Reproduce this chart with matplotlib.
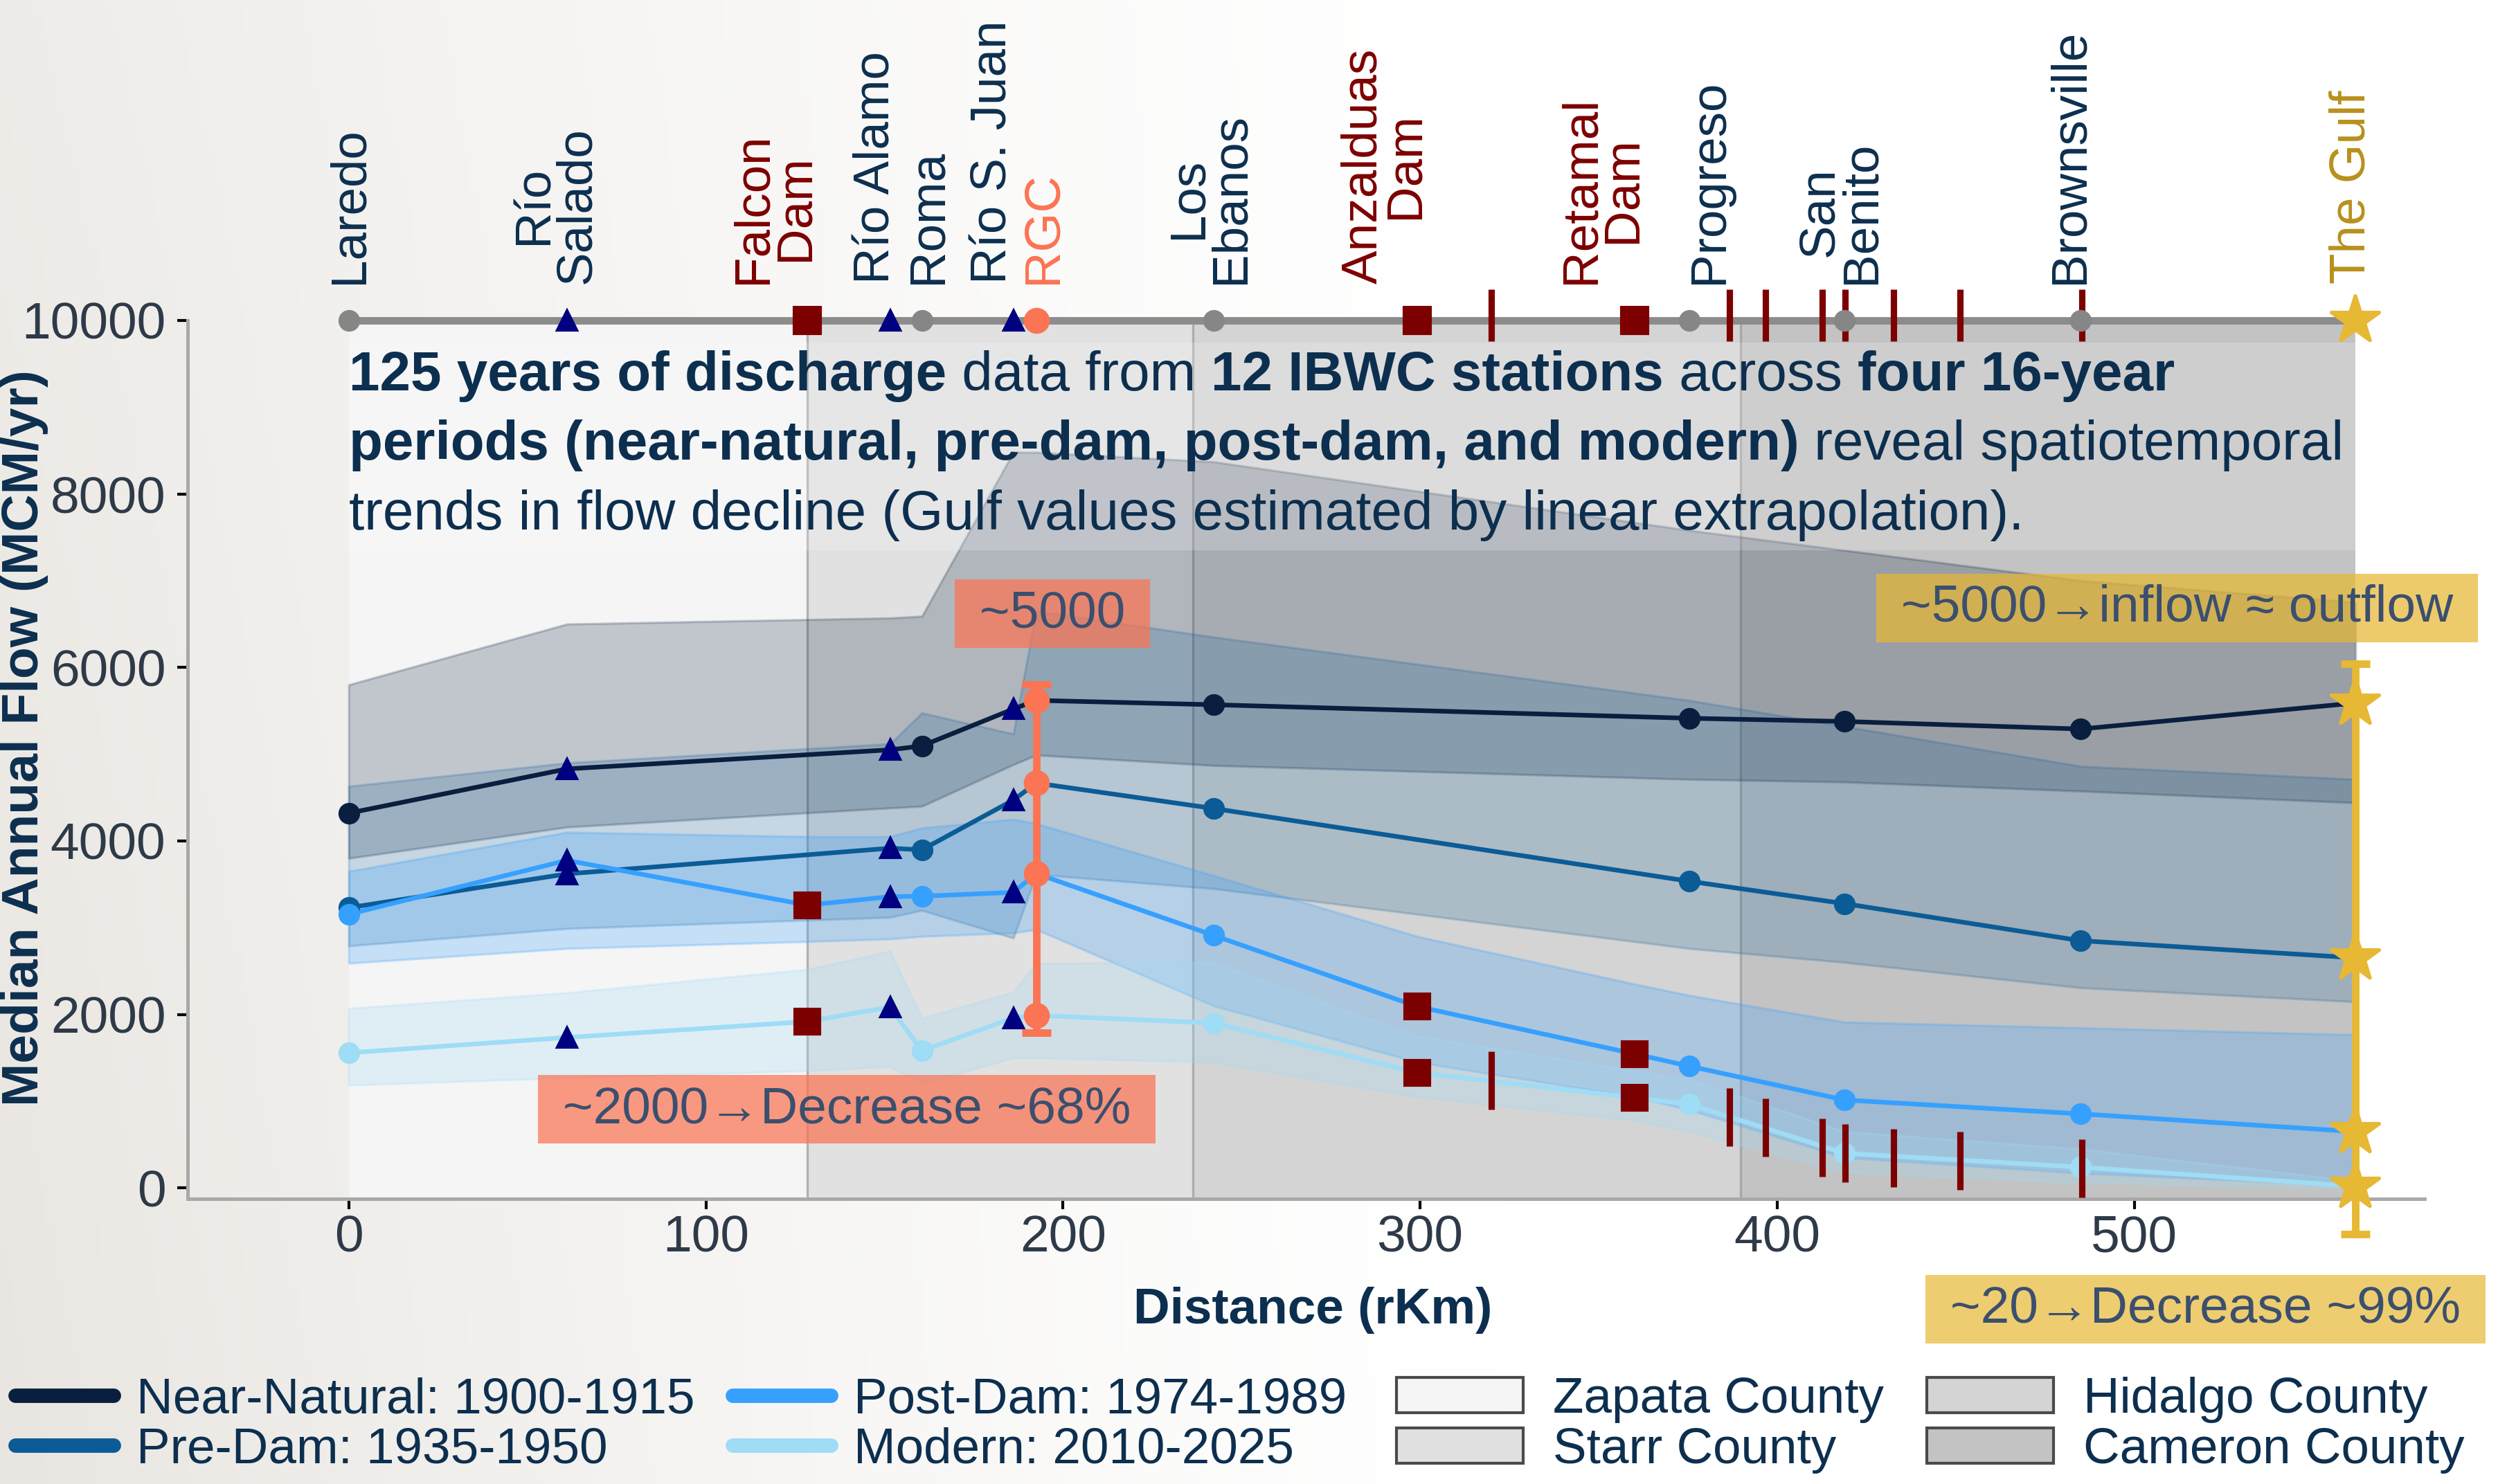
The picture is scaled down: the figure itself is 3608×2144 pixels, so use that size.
import numpy as np
import matplotlib
matplotlib.use("Agg")
import matplotlib.pyplot as plt
from matplotlib.lines import Line2D
from matplotlib.patches import Patch, Rectangle

plt.rcParams['font.family'] = ['Liberation Sans', 'DejaVu Sans']

# --- stations along the river (river km) ---
station_names = ["Laredo", "Río\nSalado", "Falcon\nDam", "Río Alamo", "Roma", "Río S. Juan", "RGC",
                 "Los\nEbanos", "Anzalduas\nDam", "Retamal\nDam", "Progreso", "San\nBenito",
                 "Brownsville", "The Gulf"]
station_km = [0.0, 61.1, 128.4, 151.6, 160.5, 186.1, 192.5, 242.2, 299.2, 360.1, 375.4, 418.9, 485.0, 562.0]
station_kind = ["gauge", "trib", "dam", "trib", "gauge", "trib", "rgc", "gauge", "dam", "dam",
                "gauge", "gauge", "gauge", "gulf"]
label_km = [0.2, 58.0, 119.2, 147.7, 162.4, 180.6, 194.6, 241.1, 290.1, 351.0, 381.2, 417.8, 482.0, 561.0]

diversion_km = [320.0, 386.6, 396.7, 412.7, 419.1, 432.6, 451.2, 485.3]
diversion_flow = [1236, 816, 696, 463, 399, 345, 311, 223]

# --- counties ---
county_names = ["Zapata County", "Starr County", "Hidalgo County", "Cameron County"]
county_edges = [0.0, 128.4, 236.4, 389.8, 562.0]

# --- median annual flow (MCM/yr) with band ---
km_natural = [0.0, 61.1, 151.6, 160.5, 186.1, 192.5, 242.2, 375.4, 418.9, 485.0, 562.0]
km_dammed = [0.0, 61.1, 128.4, 151.6, 160.5, 186.1, 192.5, 242.2, 299.2, 360.1, 375.4, 418.9, 485.0, 562.0]

nn_med = [4320, 4830, 5050, 5095, 5520, 5620, 5570, 5414, 5377, 5290, 5590]
nn_lo = [3800, 4160, 4380, 4400, 4880, 4990, 4870, 4710, 4680, 4575, 4440]
nn_hi = [5800, 6500, 6570, 6590, 8480, 8480, 8370, 7580, 7350, 7000, 6750]

pre_med = [3230, 3620, 3916, 3897, 4470, 4667, 4374, 3535, 3277, 2850, 2652]
pre_lo = [2790, 2990, 3120, 3200, 2880, 3615, 3450, 2760, 2600, 2307, 2146]
pre_hi = [4630, 4900, 5120, 5476, 5234, 6650, 6350, 5620, 5320, 4861, 4710]

post_med = [3155, 3776, 3260, 3357, 3363, 3407, 3624, 2911, 2092, 1545, 1404, 1014, 854, 649]
post_lo = [2590, 2760, 2840, 2870, 2900, 2940, 2980, 2100, 1450, 1050, 900, 350, 170, 30]
post_hi = [3650, 4100, 4050, 4050, 4150, 4250, 4200, 3600, 2900, 2350, 2220, 1912, 1846, 1766]

mod_med = [1557, 1734, 1918, 2085, 1582, 1959, 1990, 1901, 1329, 1041, 965, 400, 240, 20]
mod_lo = [1185, 1270, 1350, 1400, 1200, 1500, 1500, 1450, 1050, 780, 650, 180, 60, 0]
mod_hi = [2070, 2250, 2520, 2730, 1955, 2260, 2590, 2600, 1750, 1350, 1250, 650, 450, 80]

series_labels = ["Near-Natural: 1900-1915", "Pre-Dam: 1935-1950", "Post-Dam: 1974-1989", "Modern: 2010-2025"]

rgc_range = [1790, 5800]
gulf_range = [-530, 6045]

# --- styles ---
NAVY_TXT = '#0d2f4f'
SERIES_COLORS = ['#0a1f3f', '#0b5c96', '#36a0ff', '#9fdcf5']
BAND_ALPHA = [0.22, 0.2, 0.25, 0.25]
COUNTY_COLORS = ['#f5f5f5', '#e1e1e1', '#d4d4d4', '#c3c3c3']
CORAL = '#fb7453'
GOLD = '#e6b833'
MAROON = '#7d0000'
TRIB = '#000080'
GAUGE_GRAY = '#868686'

fig = plt.figure(figsize=(3608 / 300, 2144 / 300), dpi=300)

# soft background gradient
bg = fig.add_axes([0, 0, 1, 1], zorder=-10)
gx, gy = np.meshgrid(np.linspace(0, 1, 400), np.linspace(0, 1, 200))
w = np.clip(1 - gx / 0.6, 0, 1) ** 1.3 * (0.75 + 0.25 * (1 - gy))
base = np.array([233, 230, 225]) / 255
bg.imshow(1 - w[..., None] * (1 - base), extent=[0, 1, 0, 1], origin='lower', aspect='auto')
bg.axis('off')

ax = fig.add_axes([0.0750, 0.1922, 0.8956, 0.5919])
ax.set_facecolor('none')
ax.set_xlim(-45.2, 581.3)
ax.set_ylim(-125, 10000)

# counties
for lo, hi, c in zip(county_edges[:-1], county_edges[1:], COUNTY_COLORS):
    ax.axvspan(lo, hi, color=c, lw=0, zorder=0)
for xb in county_edges[1:-1]:
    ax.axvline(xb, color='#9a9a9a', lw=0.8, alpha=0.7, zorder=0.5)

kind_of = dict(zip(station_km, station_kind))

series = [
    (km_natural, nn_med, nn_lo, nn_hi),
    (km_natural, pre_med, pre_lo, pre_hi),
    (km_dammed, post_med, post_lo, post_hi),
    (km_dammed, mod_med, mod_lo, mod_hi),
]

for (xs, med, lo, hi), c, a in zip(series, SERIES_COLORS, BAND_ALPHA):
    ax.fill_between(xs, lo, hi, color=c, alpha=a, lw=0.8, zorder=1)

# translucent panel behind the summary text
ax.add_patch(Rectangle((0, 7350), 562, 2390, facecolor='white', alpha=0.2, lw=0, zorder=2.5))

for (xs, med, lo, hi), c in zip(series, SERIES_COLORS):
    ax.plot(xs, med, color=c, lw=1.6, zorder=4)
    for x, y in zip(xs, med):
        k = kind_of[x]
        if k == 'gauge':
            ax.plot(x, y, 'o', color=c, ms=6.5, zorder=5)
        elif k == 'trib':
            ax.plot(x, y, '^', color=TRIB, ms=6.5, zorder=5)
        elif k == 'dam':
            ax.plot(x, y, 's', color=MAROON, ms=8.5, zorder=5)
        elif k == 'gulf':
            ax.plot(x, y, '*', color=GOLD, ms=18, zorder=7, clip_on=False)

# RGC and Gulf ranges
rgc_x = station_km[station_kind.index('rgc')]
gulf_x = station_km[station_kind.index('gulf')]
for xr, rng, col in [(rgc_x, rgc_range, CORAL), (gulf_x, gulf_range, GOLD)]:
    eb = ax.errorbar([xr], [(rng[0] + rng[1]) / 2], yerr=[(rng[1] - rng[0]) / 2], color=col,
                     lw=2.6, capsize=5, capthick=2.6, zorder=6)
    for art in eb.get_children():
        art.set_clip_on(False)
rgc_vals = [s[1][s[0].index(rgc_x)] for s in series]
ax.plot([rgc_x] * len(rgc_vals), rgc_vals, 'o', color=CORAL, ms=8, zorder=6.5)

# diversion ticks along the modern line
ax.plot(diversion_km, diversion_flow, '|', color=MAROON, ms=20, mew=2.2, zorder=5)

# river schematic at the top
row_y = 10000
ax.plot([0, gulf_x], [row_y, row_y], color='#8c8c8c', lw=2.6, zorder=3, clip_on=False,
        solid_capstyle='butt')
ax.plot(diversion_km, [row_y + 60] * len(diversion_km), '|', color=MAROON, ms=18, mew=2.2,
        zorder=4, clip_on=False)
marker_style = {
    'gauge': dict(marker='o', color=GAUGE_GRAY, ms=6.5),
    'trib': dict(marker='^', color=TRIB, ms=6.5),
    'dam': dict(marker='s', color=MAROON, ms=9),
    'rgc': dict(marker='o', color=CORAL, ms=8),
    'gulf': dict(marker='*', color=GOLD, ms=18),
}
label_color = {'gauge': NAVY_TXT, 'trib': NAVY_TXT, 'dam': MAROON, 'rgc': CORAL, 'gulf': '#b8901c'}
for name, x, k, lx in zip(station_names, station_km, station_kind, label_km):
    ax.plot([x], [row_y], linestyle='none', zorder=5, clip_on=False, **marker_style[k])
    ax.text(lx, row_y + 425, name, rotation=90, ha='center', va='bottom', fontsize=17.5,
            color=label_color[k], linespacing=0.88, clip_on=False)

# summary text with mixed weights
def rich_line(x, y, pieces):
    prev = None
    for txt, bold in pieces:
        kw = dict(fontsize=19.2, color=NAVY_TXT, fontweight='bold' if bold else 'normal',
                  va='bottom', ha='left', zorder=8)
        if prev is None:
            prev = ax.text(x, y, txt, **kw)
        else:
            prev = ax.annotate(txt, xy=(1, 0), xycoords=prev, **kw)

rich_line(0, 9060, [("125 years of discharge", True), (" data from ", False),
                    ("12 IBWC stations", True), (" across ", False), ("four 16-year", True)])
rich_line(0, 8256, [("periods (near-natural, pre-dam, post-dam, and modern)", True),
                    (" reveal spatiotemporal", False)])
rich_line(0, 7452, [("trends in flow decline (Gulf values estimated by linear extrapolation).", False)])

# callout boxes
box_txt = '#3b4f6e'
ax.text(197, 6620, " ~5000 ", ha='center', va='center', fontsize=18, color=box_txt, zorder=9,
        bbox=dict(boxstyle='square,pad=0.2', fc=CORAL, ec='none', alpha=0.72))
ax.text(139.5, 907, " ~2000→Decrease ~68% ", ha='center', va='center', fontsize=18, color=box_txt,
        zorder=9, bbox=dict(boxstyle='square,pad=0.2', fc=CORAL, ec='none', alpha=0.72))
ax.text(512, 6685, " ~5000→inflow ≈ outflow ", ha='center', va='center', fontsize=18,
        color=box_txt, zorder=9, bbox=dict(boxstyle='square,pad=0.2', fc=GOLD, ec='none', alpha=0.72))
ax.text(520, -1396, " ~20→Decrease ~99% ", ha='center', va='center', fontsize=18, color=box_txt,
        zorder=9, bbox=dict(boxstyle='square,pad=0.2', fc=GOLD, ec='none', alpha=0.7))

# axes styling
for s in ['top', 'right']:
    ax.spines[s].set_visible(False)
for s in ['left', 'bottom']:
    ax.spines[s].set_color('#a8a8a8')
    ax.spines[s].set_linewidth(1.2)
ax.set_xticks(range(0, 501, 100))
ax.set_yticks(range(0, 10001, 2000))
ax.tick_params(axis='both', labelsize=18, labelcolor='#2e3a48', color='black', length=3.5, width=1)
ax.tick_params(axis='x', pad=2)
ax.tick_params(axis='y', pad=4)
ax.set_ylabel("Median Annual Flow (MCM/yr)", fontsize=18, fontweight='bold', color=NAVY_TXT)
ax.yaxis.set_label_coords(-0.062, 0.525)
ax.set_xlabel("Distance (rKm)", fontsize=17.5, fontweight='bold', color=NAVY_TXT)
ax.xaxis.set_label_coords(0.503, -0.1)

# legends: periods (lines) and counties (patches)
line_handles = [Line2D([], [], color=c, lw=5, solid_capstyle='round') for c in SERIES_COLORS]
fig.legend(line_handles, series_labels, ncol=2, loc='lower left',
           bbox_to_anchor=(-0.004, -0.01), frameon=False, fontsize=17.5, handlelength=1.95,
           handletextpad=0.45, columnspacing=0.75, labelspacing=0.08, borderpad=0,
           labelcolor=NAVY_TXT)
patch_handles = [Patch(facecolor=c, edgecolor='#4a4a4a', lw=1) for c in COUNTY_COLORS]
fig.legend(patch_handles, county_names, ncol=2, loc='lower left',
           bbox_to_anchor=(0.549, -0.01), frameon=False, fontsize=17.5, handlelength=2.5,
           handletextpad=0.6, columnspacing=0.85, labelspacing=0.08, borderpad=0,
           labelcolor=NAVY_TXT)

fig.savefig("out.png", dpi=300)
